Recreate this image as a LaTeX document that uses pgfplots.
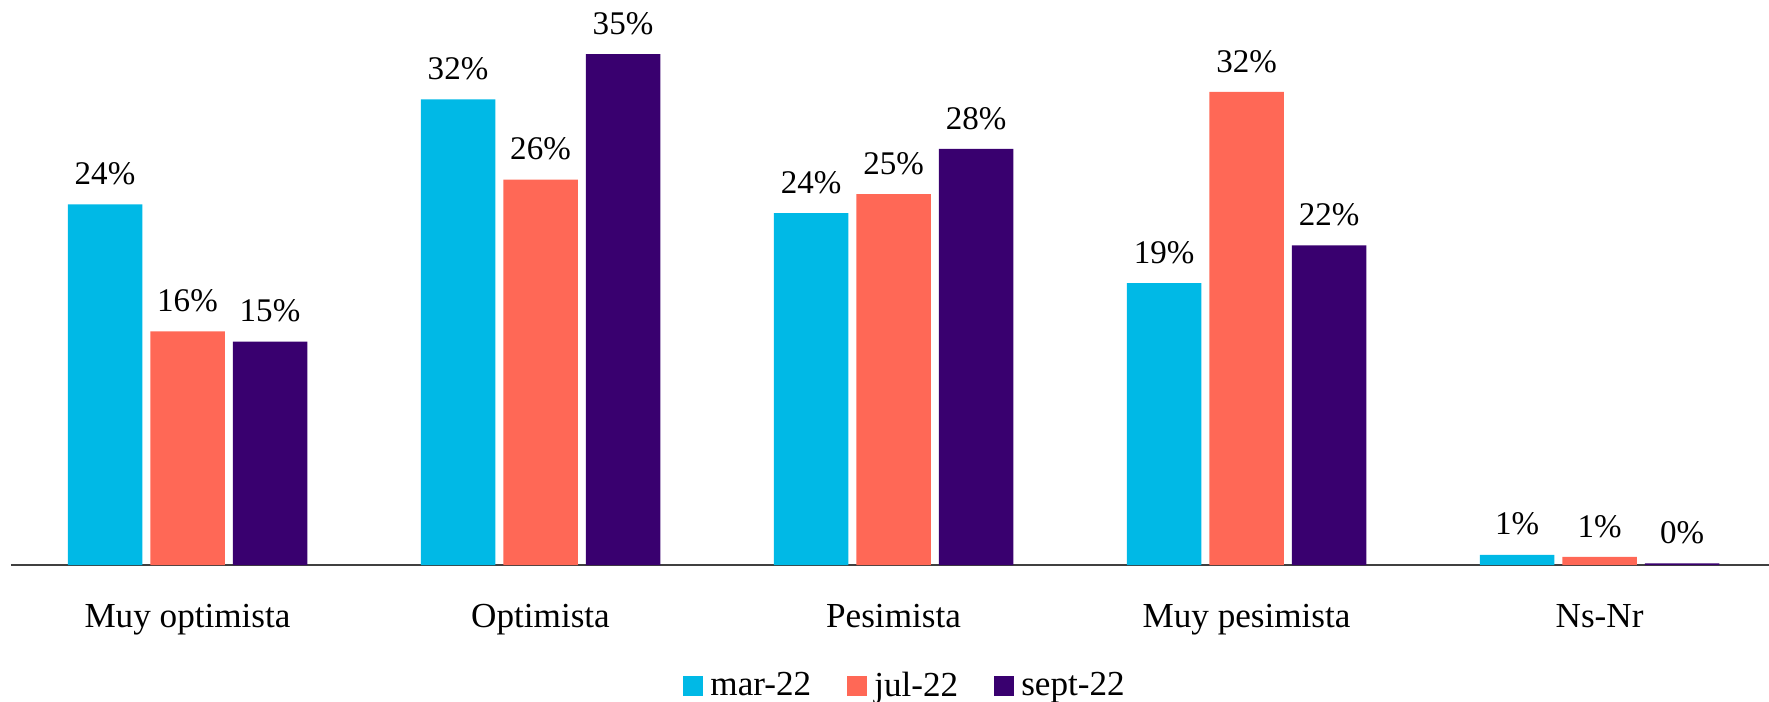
\documentclass[border=0pt]{standalone}
\usepackage{pgfplots}
\pgfplotsset{compat=1.18}
\usepackage{fontspec}
\setmainfont{Liberation Serif}

\definecolor{cmar}{RGB}{0,185,230}
\definecolor{cjul}{RGB}{255,104,86}
\definecolor{csep}{RGB}{57,0,111}

\begin{document}
\begin{tikzpicture}
\begin{axis}[
  scale only axis,
  width=175.8mm, height=56.5mm,
  xmin=-0.5, xmax=4.48,
  ymin=0, ymax=38.7,
  axis x line=bottom, axis y line=none,
  axis line style={draw=black!75, line width=0.55pt, -},
  xtick={0,1,2,3,4},
  xticklabels={Muy optimista, Optimista, Pesimista, Muy pesimista, Ns-Nr},
  xtick style={draw=none},
  xticklabel style={yshift=-1.2mm},
  ybar=0.8mm, bar width=7.45mm,
  font=\fontsize{10pt}{12pt}\selectfont,
  point meta=explicit symbolic,
  nodes near coords={\pgfplotspointmeta\%},
  every node near coord/.append style={font=\fontsize{9.4pt}{11pt}\selectfont, text=black, yshift=0.7mm},
  legend columns=-1,
  legend style={draw=none, at={(0.51,-0.215)}, anchor=center,
    font=\fontsize{10pt}{12pt}\selectfont,
    /tikz/every even column/.append style={column sep=2.9mm}},
  legend image code/.code={\fill[#1] (0mm,-1mm) rectangle (2mm,1mm);},
]
\addplot[fill=cmar, draw=none] coordinates {(0,24.7)[24] (1,31.9)[32] (2,24.1)[24] (3,19.3)[19] (4,0.7)[1]};
\addplot[fill=cjul, draw=none] coordinates {(0,16.0)[16] (1,26.4)[26] (2,25.4)[25] (3,32.4)[32] (4,0.55)[1]};
\addplot[fill=csep, draw=none] coordinates {(0,15.3)[15] (1,35.0)[35] (2,28.5)[28] (3,21.9)[22] (4,0.12)[0]};
\legend{mar-22, jul-22, sept-22}
\coordinate (bl) at (rel axis cs:0,0);
\coordinate (tr) at (rel axis cs:1,1);
\end{axis}
\pgfresetboundingbox
\path[use as bounding box] ([shift={(-1.1mm,-13.6mm)}]bl) rectangle (tr);
\end{tikzpicture}
\end{document}
